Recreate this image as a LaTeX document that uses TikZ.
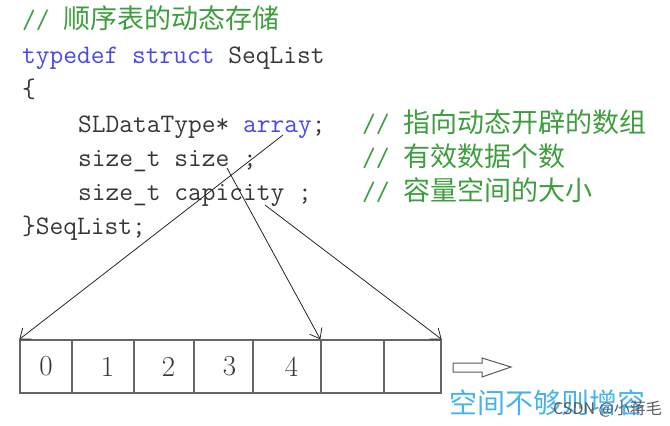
\documentclass[tikz,border=0pt]{standalone}
\usepackage{fontspec}
\newfontfamily\cjk{Noto Sans CJK SC}
\usetikzlibrary{arrows.meta}
\definecolor{cmtgreen}{RGB}{62,158,62}
\definecolor{kwblue}{RGB}{72,72,235}
\definecolor{codegray}{RGB}{55,55,55}
\definecolor{noteblue}{RGB}{70,180,235}
\tikzset{code/.style={anchor=base west,inner sep=0pt,text=codegray,font=\ttfamily\fontsize{26.7}{30}\selectfont},
  cmt/.style={code,text=cmtgreen},
  cell/.style={draw=black!60,line width=1.3pt,minimum height=53,inner sep=0pt,font=\fontsize{29}{30}\selectfont,text=codegray},
  ptr/.style={-{Straight Barb[length=9pt,width=14pt]},line width=.8pt,draw=black!85}}

\begin{document}
\begin{tikzpicture}[x=1pt,y=-1pt]
  \path[use as bounding box] (0,0) rectangle (670,426);
  % the struct
  \node[cmt] (title) at (22,28) {// {\cjk\fontsize{27}{30}\selectfont 顺序表的动态存储}};
  \node[code] (head) at (22,63) {\textcolor{kwblue}{typedef struct} SeqList};
  \node[code] (open) at (22,97) {\{};
  \node[code] (arr) at (78,132) {SLDataType* \textcolor{kwblue}{array};};
  \node[code] (size) at (78,166) {size\_t size ;};
  \node[code] (cap) at (78,200) {size\_t capicity ;};
  \node[code] (close) at (22,234) {\}SeqList;};
  \node[cmt] (arrnote) at (362,132) {// {\cjk\fontsize{27}{30}\selectfont 指向动态开辟的数组}};
  \node[cmt] (sizenote) at (362,166) {// {\cjk\fontsize{27}{30}\selectfont 有效数据个数}};
  \node[cmt] (capnote) at (362,200) {// {\cjk\fontsize{27}{30}\selectfont 容量空间的大小}};
  % the array
  \foreach \i/\l/\r/\t/\s in {0/20/72/0/0,1/72/134/1/9,2/134/194/2/9,3/194/253/3/12,4/253/321/4/9,5/321/384/{}/0,6/384/441/{}/0}{
    \node[cell,minimum width={\r-\l}] (cell\i) at ({(\l+\r)/2},366.5) {\hspace{\s pt}\t};
  }
  \coordinate (arrayptr) at (283,135);
  \coordinate (sizeptr) at (227,168);
  \coordinate (capptr) at (265,205);
  \draw[ptr] (arrayptr) -- (cell0.north west);
  \draw[ptr] (sizeptr) -- (cell5.north west);
  \draw[ptr] (capptr) -- (cell6.north east);
  % grow
  \draw[line width=1pt,draw=black!65] (453,363) -- (482,363) -- (482,358) -- (511,367)
    -- (482,377) -- (482,372) -- (453,372) -- cycle;
  \node[anchor=west,inner sep=0pt,text=noteblue,font=\cjk\fontsize{28}{30}\selectfont] (grow) at (449,403) {空间不够则增容};
  \node[anchor=west,inner sep=0pt,text=black!65,font=\cjk\fontsize{16}{18}\selectfont] (mark) at (553,409) {CSDN @小蒋毛};
\end{tikzpicture}
\end{document}
